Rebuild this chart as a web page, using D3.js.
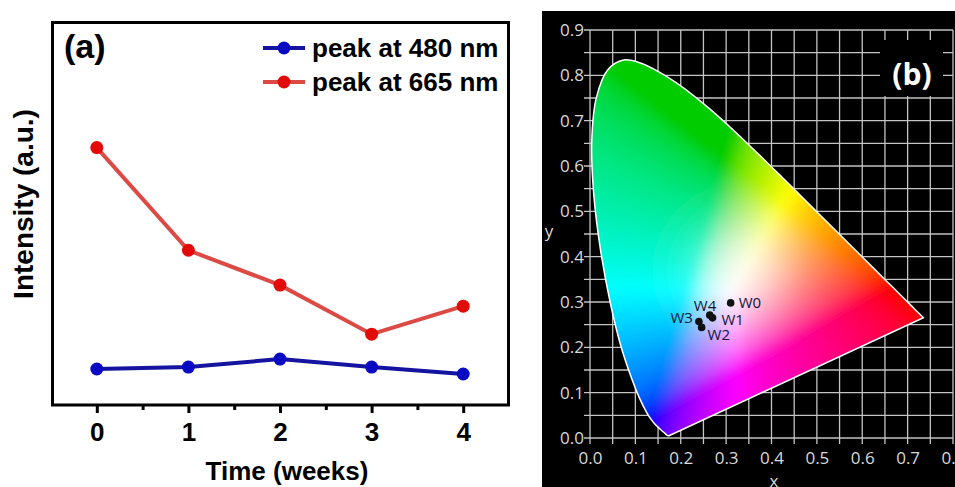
<!DOCTYPE html>
<meta charset="utf-8">
<style>
body { margin: 0; background: #fff; }
svg { display: block; }
.a-text { font-family: "Liberation Sans", Arial, sans-serif; font-weight: bold; fill: #000; }
.b-tick text { font-family: "Open Sans", "Noto Sans", sans-serif; font-size: 17px; fill: #d9d9d9; }
.b-grid line { stroke: #c4c4c4; stroke-width: 1.3px; }
.wlabel { font-family: "Open Sans", "Noto Sans", sans-serif; font-size: 15px; fill: #15153a; }
</style>
<div id="chart"></div>
<script src="https://cdnjs.cloudflare.com/ajax/libs/d3/7.8.5/d3.min.js"></script>
<script>
// ---- panel (a) data ----
var weeks = [0, 1, 2, 3, 4];
var peak480 = [9.4, 9.9, 12.0, 9.9, 8.1];
var peak665 = [67.2, 40.4, 31.3, 18.5, 25.8];
var seriesNames = ["peak at 480 nm", "peak at 665 nm"];

// ---- panel (b) data ----
// CIE 1931 spectral locus, 380-700 nm (x, y)
var locusX = [0.1741, 0.1738, 0.1733, 0.1726, 0.1714, 0.1689, 0.1644, 0.1566, 0.1440, 0.1355, 0.1241, 0.1096,
  0.0913, 0.0687, 0.0454, 0.0235, 0.0082, 0.0039, 0.0139, 0.0389, 0.0743, 0.1142, 0.1547, 0.1929, 0.2296,
  0.2658, 0.3016, 0.3373, 0.3731, 0.4087, 0.4441, 0.4788, 0.5125, 0.5448, 0.5752, 0.6029, 0.6270, 0.6482,
  0.6658, 0.6915, 0.7079, 0.7190, 0.7260, 0.7300, 0.7334, 0.7347];
var locusY = [0.0050, 0.0049, 0.0048, 0.0048, 0.0051, 0.0069, 0.0109, 0.0177, 0.0297, 0.0399, 0.0578, 0.0868,
  0.1327, 0.2007, 0.2950, 0.4127, 0.5384, 0.6548, 0.7502, 0.8120, 0.8338, 0.8262, 0.8059, 0.7816, 0.7543,
  0.7243, 0.6923, 0.6589, 0.6245, 0.5896, 0.5547, 0.5202, 0.4866, 0.4544, 0.4242, 0.3965, 0.3725, 0.3514,
  0.3340, 0.3083, 0.2920, 0.2809, 0.2740, 0.2700, 0.2666, 0.2653];
var sampleNames = ["W0", "W1", "W2", "W3", "W4"];
var sampleX = [0.310, 0.270, 0.246, 0.240, 0.264];
var sampleY = [0.298, 0.265, 0.244, 0.257, 0.271];
var cieXTicks = [0, 0.1, 0.2, 0.3, 0.4, 0.5, 0.6, 0.7, 0.8];
var cieYTicks = [0, 0.1, 0.2, 0.3, 0.4, 0.5, 0.6, 0.7, 0.8, 0.9];

var W = 955, H = 487;
var svg = d3.select("#chart").append("svg").attr("width", W).attr("height", H);
svg.append("rect").attr("width", W).attr("height", H).attr("fill", "#fff");
var defs = svg.append("defs");

// ================= panel (a) =================
var ga = svg.append("g");
var xa = d3.scaleLinear().domain([-0.5, 4.5]).range([51, 509]);
var ya = d3.scaleLinear().domain([0, 100]).range([405, 22]);

// minor ticks
ga.append("g")
  .attr("transform", "translate(0,405)")
  .call(d3.axisBottom(xa).tickValues([0.5, 1.5, 2.5, 3.5]).tickSize(5).tickFormat(""))
  .call(function(g) { g.select(".domain").remove(); g.selectAll("line").attr("stroke-width", 3); });
// major ticks
ga.append("g")
  .attr("transform", "translate(0,405)")
  .call(d3.axisBottom(xa).tickValues(weeks).tickSize(8).tickPadding(10).tickFormat(d3.format("d")))
  .call(function(g) {
    g.select(".domain").remove();
    g.selectAll("line").attr("stroke-width", 3);
    g.selectAll("text").attr("class", "a-text").style("font-size", "26px").attr("dy", "0.71em");
  });

ga.append("rect")
  .attr("x", 52.5).attr("y", 22.5).attr("width", 456).attr("height", 382.5)
  .attr("fill", "none").attr("stroke", "#000").attr("stroke-width", 3);

var series = [
  { name: seriesNames[0], values: peak480, line: "#1414a0", dot: "#0a0ac4" },
  { name: seriesNames[1], values: peak665, line: "#db4a44", dot: "#e30a0a" }
];
var line = d3.line().x(function(d) { return xa(d[0]); }).y(function(d) { return ya(d[1]); });

series.forEach(function(s) {
  var pts = weeks.map(function(w, i) { return [w, s.values[i]]; });
  ga.append("path").datum(pts).attr("d", line)
    .attr("fill", "none").attr("stroke", s.line).attr("stroke-width", 4);
  ga.selectAll(null).data(pts).enter().append("circle")
    .attr("cx", function(d) { return xa(d[0]); })
    .attr("cy", function(d) { return ya(d[1]); })
    .attr("r", 6.5).attr("fill", s.dot);
});

// legend
series.forEach(function(s, i) {
  var ly = 48 + i * 34;
  ga.append("line").attr("x1", 263).attr("x2", 305).attr("y1", ly).attr("y2", ly)
    .attr("stroke", s.line).attr("stroke-width", 4);
  ga.append("circle").attr("cx", 284).attr("cy", ly).attr("r", 6.5).attr("fill", s.dot);
  ga.append("text").attr("class", "a-text").attr("x", 312).attr("y", ly).attr("dy", "0.33em")
    .style("font-size", "26px").text(s.name);
});

ga.append("text").attr("class", "a-text").attr("x", 64).attr("y", 58)
  .style("font-size", "34px").text("(a)");
ga.append("text").attr("class", "a-text").attr("text-anchor", "middle")
  .attr("transform", "translate(33,204) rotate(-90)")
  .style("font-size", "28px").text("Intensity (a.u.)");
ga.append("text").attr("class", "a-text").attr("text-anchor", "middle")
  .attr("x", 287).attr("y", 480).style("font-size", "26px").text("Time (weeks)");

// ================= panel (b) =================
var gb = svg.append("g");
gb.append("rect").attr("x", 542).attr("y", 11).attr("width", W - 542).attr("height", H - 11).attr("fill", "#000");

var xb = d3.scaleLinear().domain([0, 0.8]).range([590, 953]);
var yb = d3.scaleLinear().domain([0, 0.9]).range([438, 30]);
var gridX = d3.range(17).map(function(i) { return i * 0.05; });
var gridY = d3.range(19).map(function(i) { return i * 0.05; });

gb.append("g").attr("class", "b-grid")
  .selectAll("line").data(gridX).enter().append("line")
  .attr("x1", function(d) { return xb(d); }).attr("x2", function(d) { return xb(d); })
  .attr("y1", yb(0.9)).attr("y2", yb(0) + 6);
gb.append("g").attr("class", "b-grid")
  .selectAll("line").data(gridY).enter().append("line")
  .attr("y1", function(d) { return yb(d); }).attr("y2", function(d) { return yb(d); })
  .attr("x1", xb(0) - 6).attr("x2", xb(0.8));

gb.append("g").attr("class", "b-tick").attr("transform", "translate(0," + yb(0) + ")")
  .call(d3.axisBottom(xb).tickValues(cieXTicks).tickSize(0).tickPadding(14).tickFormat(d3.format(".1f")))
  .call(function(g) { g.select(".domain").remove(); });
gb.append("g").attr("class", "b-tick").attr("transform", "translate(" + (xb(0) - 5) + ",0)")
  .call(d3.axisLeft(yb).tickValues(cieYTicks).tickSize(0).tickPadding(1).tickFormat(d3.format(".1f")))
  .call(function(g) { g.select(".domain").remove(); });

gb.append("text").attr("x", 774).attr("y", 487).attr("text-anchor", "middle")
  .attr("font-family", "Open Sans, sans-serif").attr("font-size", 17).attr("fill", "#d9d9d9").text("x");
gb.append("text").attr("x", 549).attr("y", 237).attr("text-anchor", "middle")
  .attr("font-family", "Open Sans, sans-serif").attr("font-size", 17).attr("fill", "#d9d9d9").text("y");

// chromaticity fill, clipped to the spectral locus
var locus = locusX.map(function(x, i) { return [x, locusY[i]]; });
var locusD = d3.line().x(function(d) { return xb(d[0]); }).y(function(d) { return yb(d[1]); })
  .curve(d3.curveCatmullRom.alpha(0.5))(locus) + "Z";

defs.append("clipPath").attr("id", "locusClip").append("path").attr("d", locusD);
defs.append("filter").attr("id", "soft").attr("x", "-5%").attr("y", "-5%").attr("width", "110%").attr("height", "110%")
  .append("feGaussianBlur").attr("stdDeviation", 6);

var x0 = Math.floor(xb(-0.05)), x1 = Math.ceil(xb(0.8)), y0 = Math.floor(yb(0.9)), y1 = Math.ceil(yb(-0.05));
var cw = x1 - x0, ch = y1 - y0;
var canvas = document.createElement("canvas");
canvas.width = cw; canvas.height = ch;
var ctx = canvas.getContext("2d");
var img = ctx.createImageData(cw, ch);
function gam(c) { return c <= 0.0031308 ? 12.92 * c : 1.055 * Math.pow(c, 1 / 2.4) - 0.055; }
for (var j = 0; j < ch; j++) {
  var cy = yb.invert(y0 + j + 0.5);
  for (var i = 0; i < cw; i++) {
    var cx = Math.max(xb.invert(x0 + i + 0.5), 0.001);
    var yy = Math.max(cy, 0.004);
    var X = cx / yy, Z = Math.max(1 - cx - yy, 0) / yy;
    var r = 3.2406 * X - 1.5372 - 0.4986 * Z;
    var g = -0.9689 * X + 1.8758 + 0.0415 * Z;
    var b = 0.0557 * X - 0.2040 + 1.0570 * Z;
    r = Math.max(r, 0); g = Math.max(g, 0); b = Math.max(b, 0);
    var m = Math.max(r, g, b) || 1;
    var R = gam(r / m), G = gam(g / m), B = gam(b / m);
    // pure green reads darker in the reference
    G *= 0.8 + 0.2 * Math.max(R, B);
    // pale centre around the white point
    var d2 = (cx - 0.33) * (cx - 0.33) + (cy - 0.37) * (cy - 0.37);
    var wmix = 0.55 * Math.exp(-d2 / 0.012);
    R = R + (1 - R) * wmix; G = G + (1 - G) * wmix; B = B + (1 - B) * wmix;
    var k = (j * cw + i) * 4;
    img.data[k] = Math.round(255 * R);
    img.data[k + 1] = Math.round(255 * G);
    img.data[k + 2] = Math.round(255 * B);
    img.data[k + 3] = 255;
  }
}
ctx.putImageData(img, 0, 0);
gb.append("g").attr("clip-path", "url(#locusClip)")
  .append("image").attr("x", x0).attr("y", y0).attr("width", cw).attr("height", ch)
  .attr("href", canvas.toDataURL()).attr("filter", "url(#soft)");
gb.append("path").attr("d", locusD).attr("fill", "none").attr("stroke", "#fff").attr("stroke-width", 1.5);

// (b) label box
gb.append("rect").attr("x", 880).attr("y", 40).attr("width", 63).attr("height", 56).attr("fill", "#000");
gb.append("text").attr("x", 912).attr("y", 85).attr("text-anchor", "middle")
  .attr("font-family", "Open Sans, sans-serif").attr("font-weight", "bold").attr("font-size", 30)
  .attr("fill", "#fff").text("(b)");

// sample points
var labelOffset = { W0: [8, 5.5, "start"], W1: [9, 7.5, "start"], W2: [6, 12.5, "start"], W3: [-6, 2, "end"], W4: [-16, -4, "start"] };
var samples = sampleNames.map(function(n, i) { return { name: n, x: sampleX[i], y: sampleY[i] }; });
gb.selectAll(null).data(samples).enter().append("circle")
  .attr("cx", function(d) { return xb(d.x); }).attr("cy", function(d) { return yb(d.y); })
  .attr("r", 3.8).attr("fill", "#111");
gb.selectAll(null).data(samples).enter().append("text").attr("class", "wlabel")
  .attr("x", function(d) { return xb(d.x) + labelOffset[d.name][0]; })
  .attr("y", function(d) { return yb(d.y) + labelOffset[d.name][1]; })
  .attr("text-anchor", function(d) { return labelOffset[d.name][2]; })
  .text(function(d) { return d.name; });
</script>
